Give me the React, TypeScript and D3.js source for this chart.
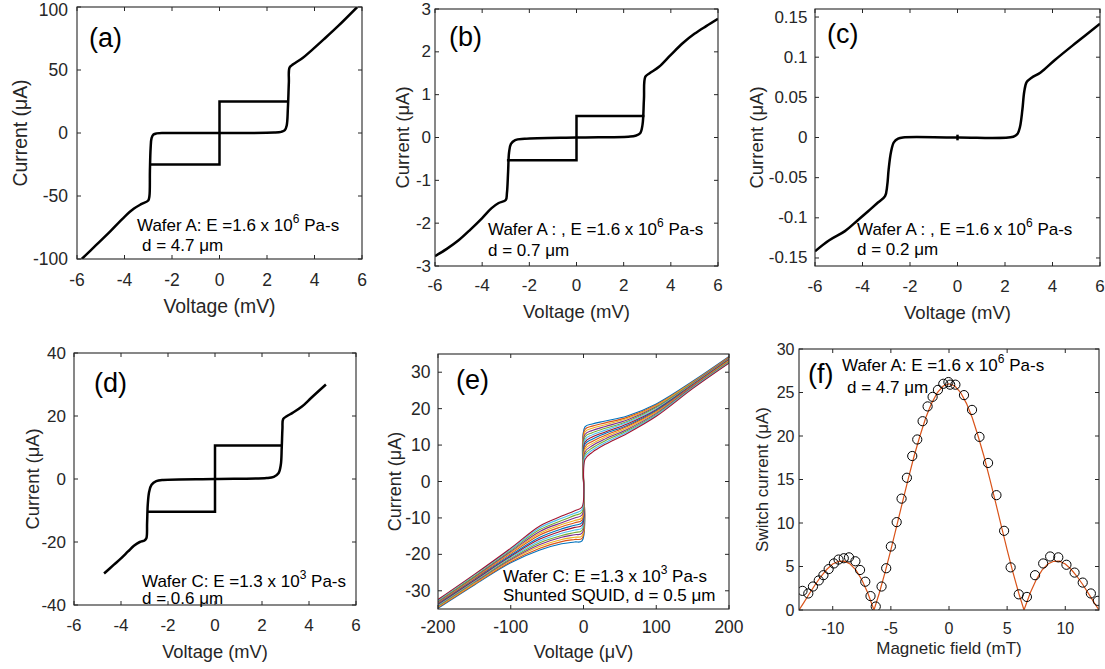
import { useEffect, useRef } from 'react';
import * as d3 from 'd3';

type Pt = [number, number];

// ---------- data ----------
const voltTicks = [-6, -4, -2, 0, 2, 4, 6];

// (a) Wafer A, d = 4.7 um
const aYTicks = [-100, -50, 0, 50, 100];
const ivA: Pt[] = [
  [-5.8, -100], [-5.2, -89], [-4.6, -78], [-4.0, -66.5], [-3.6, -60], [-3.3, -56.5], [-3.0, -53.5],
  [-2.95, -50], [-2.93, -30], [-2.9, -12], [-2.86, -4], [-2.78, -1.2], [-2.65, -0.3], [-2.3, 0],
  [0, 0], [2.3, 0.3], [2.6, 0.9], [2.75, 2.2], [2.83, 6], [2.88, 20], [2.92, 40], [2.95, 52],
  [3.1, 54.5], [3.5, 59.5], [3.9, 66], [4.4, 74.5], [5.0, 85], [5.8, 100],
];
const loopA: Pt[] = [[-2.93, -25], [0, -25], [0, 25], [2.9, 25]];

// (b) Wafer A, d = 0.7 um
const bYTicks = [-3, -2, -1, 0, 1, 2, 3];
const ivB: Pt[] = [
  [-6, -2.77], [-5.5, -2.6], [-5.0, -2.4], [-4.5, -2.15], [-4.0, -1.88], [-3.6, -1.65], [-3.3, -1.53],
  [-3.0, -1.46], [-2.95, -1.3], [-2.9, -0.8], [-2.86, -0.35], [-2.78, -0.15], [-2.6, -0.06], [-2.2, -0.03],
  [0, 0], [2.2, 0.02], [2.5, 0.04], [2.7, 0.1], [2.8, 0.3], [2.86, 0.9], [2.92, 1.42], [3.1, 1.5],
  [3.5, 1.65], [4.0, 1.93], [4.5, 2.2], [5.0, 2.42], [5.5, 2.6], [6, 2.77],
];
const loopB: Pt[] = [[-2.95, -0.53], [0, -0.53], [0, 0.5], [2.88, 0.5]];

// (c) Wafer A, d = 0.2 um
const cYTicks = [-0.15, -0.1, -0.05, 0, 0.05, 0.1, 0.15];
const ivC: Pt[] = [
  [-6, -0.1417], [-5.4, -0.128], [-4.74, -0.1166], [-4.2, -0.103], [-3.75, -0.0915], [-3.35, -0.081],
  [-3.05, -0.073], [-2.96, -0.06], [-2.9, -0.04], [-2.8, -0.018], [-2.68, -0.006], [-2.5, -0.0015],
  [-2.3, 0], [0, 0], [2.35, 0.001], [2.53, 0.0046], [2.63, 0.013], [2.73, 0.034], [2.81, 0.057],
  [2.91, 0.069], [3.12, 0.0745], [3.5, 0.081], [4.1, 0.0965], [4.95, 0.117], [6, 0.1417],
];
const blipC: Pt[] = [[0, -0.0035], [0, 0.0035]];

// (d) Wafer C, d = 0.6 um
const dYTicks = [-40, -20, 0, 20, 40];
const ivD: Pt[] = [
  [-4.72, -30], [-4.3, -27.2], [-4.0, -25.2], [-3.7, -23], [-3.45, -21.2], [-3.2, -20], [-3.0, -19.5],
  [-2.92, -18.8], [-2.89, -14], [-2.86, -8], [-2.8, -4], [-2.7, -1.8], [-2.5, -0.7], [-2.2, -0.3],
  [0, 0], [2.2, 0.3], [2.5, 0.7], [2.7, 1.8], [2.8, 4.5], [2.84, 10], [2.87, 16], [2.9, 19],
  [3.05, 19.9], [3.3, 21], [3.7, 23], [4.1, 25.8], [4.72, 30],
];
const loopD: Pt[] = [[-2.88, -10.4], [0, -10.4], [0, 10.6], [2.87, 10.6]];

// (e) shunted SQUID, one row per flux value
const eXTicks = [-200, -100, 0, 100, 200];
const eYTicks = [-30, -20, -10, 0, 10, 20, 30];
const eVolts = [-200, -150, -100, -60, -30, -12, -2, 2, 12, 30, 60, 100, 150, 200];
const eCurrents = [
  [-34.8, -28.4, -22.3, -18.8, -17.1, -16.6, -16.3, 15.0, 15.8, 16.6, 18.0, 21.3, 27.5, 34.3],
  [-34.6, -28.2, -22.0, -18.3, -16.5, -15.9, -15.6, 14.3, 15.2, 16.1, 17.6, 21.0, 27.3, 34.2],
  [-34.4, -28.0, -21.7, -17.8, -15.9, -15.3, -14.9, 13.6, 14.6, 15.6, 17.3, 20.8, 27.2, 34.0],
  [-34.2, -27.7, -21.4, -17.3, -15.3, -14.6, -14.2, 12.9, 14.0, 15.1, 16.9, 20.5, 27.0, 33.9],
  [-34.1, -27.5, -21.1, -16.8, -14.8, -14.0, -13.4, 12.2, 13.4, 14.6, 16.5, 20.3, 26.9, 33.8],
  [-33.9, -27.3, -20.8, -16.3, -14.2, -13.3, -12.7, 11.5, 12.8, 14.1, 16.2, 20.0, 26.7, 33.6],
  [-33.7, -27.1, -20.5, -15.8, -13.6, -12.6, -12.0, 10.8, 12.2, 13.6, 15.8, 19.7, 26.6, 33.5],
  [-33.5, -26.8, -20.2, -15.3, -13.0, -12.0, -11.3, 10.2, 11.6, 13.2, 15.4, 19.5, 26.4, 33.3],
  [-33.3, -26.6, -19.8, -14.7, -12.4, -11.3, -10.6, 9.5, 11.0, 12.7, 15.1, 19.2, 26.3, 33.2],
  [-33.1, -26.4, -19.5, -14.2, -11.8, -10.7, -9.9, 8.8, 10.4, 12.2, 14.7, 19.0, 26.1, 33.1],
  [-33.0, -26.2, -19.2, -13.7, -11.3, -10.0, -9.2, 8.1, 9.8, 11.7, 14.3, 18.7, 26.0, 32.9],
  [-32.8, -26.0, -18.9, -13.2, -10.7, -9.3, -8.4, 7.4, 9.2, 11.2, 13.9, 18.4, 25.8, 32.8],
  [-32.6, -25.7, -18.6, -12.7, -10.1, -8.7, -7.7, 6.7, 8.6, 10.7, 13.6, 18.2, 25.7, 32.6],
  [-32.4, -25.5, -18.3, -12.2, -9.5, -8.0, -7.0, 6.0, 8.0, 10.2, 13.2, 17.9, 25.5, 32.5],
];
const matlabColors = ['#0072BD', '#D95319', '#EDB120', '#7E2F8E', '#77AC30', '#4DBEEE', '#A2142F'];

// (f) Fraunhofer pattern, measured switch current and fit
const fXTicks = [-10, -5, 0, 5, 10];
const fYTicks = [0, 5, 10, 15, 20, 25, 30];
const fField = [
  -12.6, -12.1, -11.7, -11.2, -10.8, -10.35, -9.9, -9.5, -9.05, -8.6, -8.05, -7.65, -7.2, -6.75, -6.3,
  -5.8, -5.4, -5.0, -4.5, -4.08, -3.62, -3.16, -2.73, -2.27, -1.84, -1.41, -0.95, -0.49, -0.05, 0.1,
  0.55, 1.29, 1.98, 2.62, 3.36, 4.08, 4.74, 5.3, 6.0, 6.7, 7.4, 8.1, 8.7, 9.4, 10.1, 10.8, 11.5, 12.2, 12.8,
];
const fCurrent = [
  2.2, 1.9, 2.7, 3.4, 4.0, 4.7, 5.35, 5.8, 5.95, 6.05, 5.6, 4.6, 3.25, 1.6, 0.4,
  2.7, 4.8, 7.3, 10.1, 12.8, 15.2, 17.7, 19.6, 21.7, 23.4, 24.5, 25.3, 26.0, 26.2, 25.9,
  25.9, 24.7, 23.0, 19.9, 16.9, 13.2, 9.1, 4.9, 1.8, 1.5, 4.0, 5.35, 6.15, 6.05, 5.2, 4.3, 3.15, 1.9, 1.05,
];
const fitField = [
  -12.9, -12.5, -12, -11.5, -11, -10.5, -10, -9.5, -9, -8.5, -8, -7.5, -7, -6.45, -6, -5.5, -5, -4.5, -4,
  -3.5, -3, -2.5, -2, -1.5, -1, -0.5, 0, 0.5, 1, 1.5, 2, 2.5, 3, 3.5, 4, 4.5, 5, 5.5, 6, 6.45, 7, 7.5,
  8, 8.5, 9, 9.5, 10, 10.5, 11, 11.5, 12, 12.5, 12.9,
];
const fitCurrent = [
  0, 0.82, 1.89, 2.93, 3.88, 4.68, 5.28, 5.6, 5.61, 5.29, 4.59, 3.48, 2.02, 0, 1.93, 4.33, 6.9, 9.65, 12.4,
  15.1, 17.7, 20.0, 22.1, 23.75, 25.0, 25.74, 26.0, 25.74, 25.0, 23.75, 22.1, 20.0, 17.7, 15.1, 12.4, 9.65,
  6.9, 4.33, 1.93, 0, 2.02, 3.48, 4.59, 5.29, 5.6, 5.61, 5.28, 4.68, 3.88, 2.93, 1.89, 0.82, 0,
];

// ---------- drawing ----------
const FONT = '"Liberation Sans", Arial, Helvetica, sans-serif';
const AXIS = '#262626';

type Scale = d3.ScaleLinear<number, number>;
type Sel = d3.Selection<SVGGElement, unknown, null, undefined>;

const smooth = (x: Scale, y: Scale) =>
  d3.line<Pt>().x(d => x(d[0])).y(d => y(d[1])).curve(d3.curveCatmullRom.alpha(0.5));
const straight = (x: Scale, y: Scale) =>
  d3.line<Pt>().x(d => x(d[0])).y(d => y(d[1]));

const drawIV = (curve: Pt[], extra: Pt[]) => (g: Sel, x: Scale, y: Scale) => {
  g.append('path').attr('d', smooth(x, y)(curve)).attr('fill', 'none')
    .attr('stroke', '#000').attr('stroke-width', 2.5).attr('stroke-linejoin', 'round');
  g.append('path').attr('d', straight(x, y)(extra)).attr('fill', 'none')
    .attr('stroke', '#000').attr('stroke-width', 2.5);
};

const drawSquid = (g: Sel, x: Scale, y: Scale) => {
  eCurrents.forEach((row, i) => {
    const pts: Pt[] = row.map((c, j) => [eVolts[j], c]);
    g.append('path').attr('d', smooth(x, y)(pts)).attr('fill', 'none')
      .attr('stroke', matlabColors[i % matlabColors.length]).attr('stroke-width', 1.1);
  });
};

const drawFraunhofer = (g: Sel, x: Scale, y: Scale) => {
  const fit: Pt[] = fitField.map((b, i) => [b, fitCurrent[i]]);
  g.append('path').attr('d', straight(x, y)(fit)).attr('fill', 'none')
    .attr('stroke', '#D95319').attr('stroke-width', 1.2);
  g.selectAll('circle.pt').data(fField).enter().append('circle')
    .attr('cx', d => x(d)).attr('cy', (d, i) => y(fCurrent[i])).attr('r', 4.6)
    .attr('fill', 'none').attr('stroke', '#000').attr('stroke-width', 1);
};

interface Note { x: number; y: number; text: string; sup?: string; tail?: string }
interface Panel {
  id: string;
  box: [number, number, number, number];
  xDomain: [number, number];
  yDomain: [number, number];
  xTicks: number[];
  yTicks: number[];
  tickSize: number;
  labelSize: number;
  xLabel: string;
  yLabel: string;
  xTickY: number;
  xLabelY: number;
  yLabelX: number;
  yTickX: number;
  tag: { text: string; x: number; y: number };
  notes: Note[];
  draw: (g: Sel, x: Scale, y: Scale) => void;
}

const panels: Panel[] = [
  {
    id: 'a', box: [77, 362, 7, 259], xDomain: [-6, 6], yDomain: [-100, 100], xTicks: voltTicks, yTicks: aYTicks,
    tickSize: 17.5, labelSize: 19.4, xLabel: 'Voltage (mV)', yLabel: 'Current (μA)',
    xTickY: 280, xLabelY: 306, yLabelX: 20, yTickX: 68,
    tag: { text: '(a)', x: 89, y: 37.5 },
    notes: [
      { x: 137, y: 225, text: 'Wafer A: E =1.6 x 10', sup: '6', tail: ' Pa-s' },
      { x: 142, y: 245, text: 'd = 4.7 μm' },
    ],
    draw: drawIV(ivA, loopA),
  },
  {
    id: 'b', box: [435, 718, 9, 266], xDomain: [-6, 6], yDomain: [-3, 3], xTicks: voltTicks, yTicks: bYTicks,
    tickSize: 17, labelSize: 18.5, xLabel: 'Voltage (mV)', yLabel: 'Current (μA)',
    xTickY: 285, xLabelY: 311, yLabelX: 402, yTickX: 431,
    tag: { text: '(b)', x: 449, y: 36.5 },
    notes: [
      { x: 488, y: 229, text: 'Wafer A : , E =1.6 x 10', sup: '6', tail: ' Pa-s' },
      { x: 488, y: 250, text: 'd = 0.7 μm' },
    ],
    draw: drawIV(ivB, loopB),
  },
  {
    id: 'c', box: [815, 1100, 9, 266], xDomain: [-6, 6], yDomain: [-0.16, 0.16], xTicks: voltTicks, yTicks: cYTicks,
    tickSize: 17, labelSize: 18.5, xLabel: 'Voltage (mV)', yLabel: 'Current (μA)',
    xTickY: 286, xLabelY: 312, yLabelX: 756, yTickX: 807.5,
    tag: { text: '(c)', x: 827, y: 34 },
    notes: [
      { x: 857, y: 229, text: 'Wafer A : , E =1.6 x 10', sup: '6', tail: ' Pa-s' },
      { x: 857, y: 249, text: 'd = 0.2 μm' },
    ],
    draw: drawIV(ivC, blipC),
  },
  {
    id: 'd', box: [74, 356, 353, 605], xDomain: [-6, 6], yDomain: [-40, 40], xTicks: voltTicks, yTicks: dYTicks,
    tickSize: 17, labelSize: 18.3, xLabel: 'Voltage (mV)', yLabel: 'Current (μA)',
    xTickY: 625, xLabelY: 651.5, yLabelX: 32, yTickX: 66,
    tag: { text: '(d)', x: 94, y: 383 },
    notes: [
      { x: 142, y: 581, text: 'Wafer C: E =1.3 x 10', sup: '3', tail: ' Pa-s' },
      { x: 142, y: 598, text: 'd = 0.6 μm' },
    ],
    draw: drawIV(ivD, loopD),
  },
  {
    id: 'e', box: [438, 729, 354, 609], xDomain: [-200, 200], yDomain: [-35, 35], xTicks: eXTicks, yTicks: eYTicks,
    tickSize: 17.5, labelSize: 18, xLabel: 'Voltage (μV)', yLabel: 'Current (μA)',
    xTickY: 626.5, xLabelY: 651.5, yLabelX: 395, yTickX: 430.5,
    tag: { text: '(e)', x: 456, y: 380 },
    notes: [
      { x: 503, y: 576, text: 'Wafer C: E =1.3 x 10', sup: '3', tail: ' Pa-s' },
      { x: 503, y: 595, text: 'Shunted SQUID, d = 0.5 μm' },
    ],
    draw: drawSquid,
  },
  {
    id: 'f', box: [799, 1099, 349, 610], xDomain: [-12.9, 12.9], yDomain: [0, 30], xTicks: fXTicks, yTicks: fYTicks,
    tickSize: 16, labelSize: 17, xLabel: 'Magnetic field (mT)', yLabel: 'Switch current (μA)',
    xTickY: 628, xLabelY: 648, yLabelX: 762, yTickX: 794.5,
    tag: { text: '(f)', x: 808, y: 374 },
    notes: [
      { x: 842, y: 365, text: 'Wafer A: E =1.6 x 10', sup: '6', tail: ' Pa-s' },
      { x: 847, y: 386.5, text: 'd = 4.7 μm' },
    ],
    draw: drawFraunhofer,
  },
];

const drawPanel = (svg: d3.Selection<SVGSVGElement, unknown, null, undefined>, p: Panel) => {
  const [left, right, top, bottom] = p.box;
  const x = d3.scaleLinear().domain(p.xDomain).range([left, right]);
  const y = d3.scaleLinear().domain(p.yDomain).range([bottom, top]);
  const g = svg.append('g');

  g.append('clipPath').attr('id', `clip-${p.id}`).append('rect')
    .attr('x', left).attr('y', top).attr('width', right - left).attr('height', bottom - top);
  const plot = g.append('g').attr('clip-path', `url(#clip-${p.id})`) as unknown as Sel;
  p.draw(plot, x, y);

  // box with inward ticks on all four sides
  g.append('rect').attr('x', left).attr('y', top).attr('width', right - left).attr('height', bottom - top)
    .attr('fill', 'none').attr('stroke', AXIS).attr('stroke-width', 1.1);
  const tl = 4;
  p.xTicks.forEach(t => {
    const px = x(t);
    g.append('line').attr('x1', px).attr('x2', px).attr('y1', bottom).attr('y2', bottom - tl).attr('stroke', AXIS);
    g.append('line').attr('x1', px).attr('x2', px).attr('y1', top).attr('y2', top + tl).attr('stroke', AXIS);
    g.append('text').attr('x', px).attr('y', p.xTickY).attr('text-anchor', 'middle')
      .attr('dominant-baseline', 'central').attr('font-size', p.tickSize).attr('fill', AXIS).text(String(t));
  });
  p.yTicks.forEach(t => {
    const py = y(t);
    g.append('line').attr('x1', left).attr('x2', left + tl).attr('y1', py).attr('y2', py).attr('stroke', AXIS);
    g.append('line').attr('x1', right).attr('x2', right - tl).attr('y1', py).attr('y2', py).attr('stroke', AXIS);
    // keep the topmost label inside the page
    g.append('text').attr('x', p.yTickX).attr('y', Math.max(py, 9.5)).attr('text-anchor', 'end')
      .attr('dominant-baseline', 'central').attr('font-size', p.tickSize).attr('fill', AXIS).text(String(t));
  });

  // axis labels
  g.append('text').attr('x', (left + right) / 2).attr('y', p.xLabelY).attr('text-anchor', 'middle')
    .attr('dominant-baseline', 'central').attr('font-size', p.labelSize).attr('fill', AXIS).text(p.xLabel);
  g.append('text').attr('transform', `translate(${p.yLabelX},${(top + bottom) / 2}) rotate(-90)`)
    .attr('text-anchor', 'middle').attr('dominant-baseline', 'central')
    .attr('font-size', p.labelSize).attr('fill', AXIS).text(p.yLabel);

  // panel tag and annotation
  g.append('text').attr('x', p.tag.x).attr('y', p.tag.y).attr('dominant-baseline', 'central')
    .attr('font-size', 27).attr('fill', '#000').text(p.tag.text);
  p.notes.forEach(n => {
    const t = g.append('text').attr('x', n.x).attr('y', n.y).attr('dominant-baseline', 'central')
      .attr('font-size', 17).attr('fill', '#000').style('white-space', 'pre');
    t.append('tspan').text(n.text);
    if (n.sup) {
      t.append('tspan').attr('dy', -6).attr('font-size', 12).text(n.sup);
      t.append('tspan').attr('dy', 6).text(n.tail || '');
    }
  });
};

const App = () => {
  const svgRef = useRef<SVGSVGElement | null>(null);

  useEffect(() => {
    if (!svgRef.current) return;
    const svg = d3.select(svgRef.current);
    svg.selectAll('*').remove();
    panels.forEach(p => drawPanel(svg, p));
  }, []);

  return (
    <svg
      ref={svgRef}
      width={1105}
      height={669}
      style={{ position: 'absolute', left: 0, top: 0, background: '#fff', fontFamily: FONT }}
    />
  );
};

export default App;
